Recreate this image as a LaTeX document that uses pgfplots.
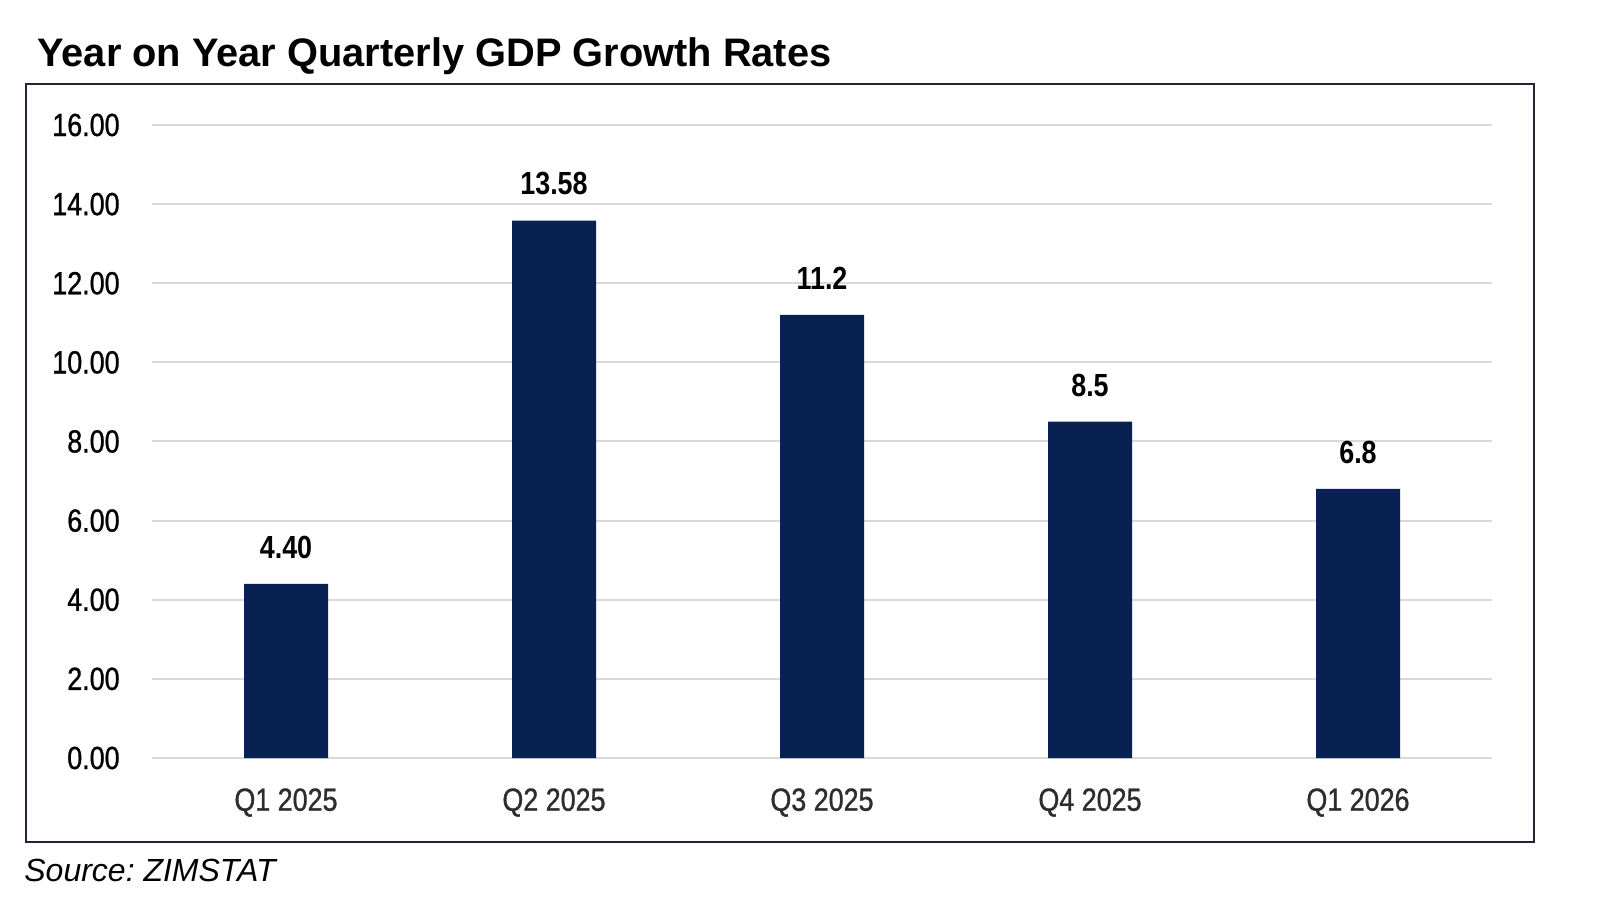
\documentclass[border=0pt]{standalone}
\usepackage{fontspec}
\setmainfont{Liberation Sans}
\newfontfamily\condensed[FakeStretch=0.84]{Liberation Sans}
\newfontfamily\condensedheavy[FakeStretch=0.84, FakeBold=0.9]{Liberation Sans}
\usepackage{pgfplots}
\pgfplotsset{compat=1.18}
\definecolor{barblue}{RGB}{8,33,82}
\definecolor{gridgray}{RGB}{217,217,217}
\definecolor{framecol}{RGB}{35,37,55}
\definecolor{labgray}{RGB}{45,45,45}
\begin{document}
\begin{tikzpicture}[x=1pt,y=1pt]
\path[use as bounding box, fill=white] (0,0) rectangle (800,450);
\draw[framecol, line width=1.4pt] (13,29) rectangle (767,408);
\node[anchor=base west, inner sep=0pt, font=\fontsize{19.9}{22}\selectfont\bfseries] at (18.5,416.5) {Year on Year Quarterly GDP Growth Rates};
\node[anchor=west, inner sep=0pt, font=\fontsize{16}{18}\selectfont\itshape] at (12,15) {Source:\ ZIMSTAT};
\begin{axis}[
  at={(76pt,71pt)}, anchor=south west,
  scale only axis, width=670pt, height=316.5pt,
  xmin=-0.5, xmax=4.5, ymin=0, ymax=16,
  axis line style={draw=none},
  ybar, bar width=42pt,
  xtick=data,
  xticklabels={Q1 2025,Q2 2025,Q3 2025,Q4 2025,Q1 2026},
  ytick={0,2,...,16},
  major tick length=0pt,
  ymajorgrids, grid style={gridgray, line width=1pt},
  /pgf/number format/assume math mode=true,
  yticklabel={\pgfmathprintnumber[fixed, fixed zerofill, precision=2]{\tick}},
  yticklabel style={font=\condensedheavy\fontsize{16}{18}\selectfont, anchor=east, inner sep=0pt, xshift=-16pt, text=black},
  xticklabel style={font=\condensedheavy\fontsize{16}{18}\selectfont, anchor=north, inner sep=0pt, yshift=-15pt, text=labgray},
  nodes near coords,
  point meta=explicit symbolic,
  every node near coord/.style={font=\condensed\bfseries\fontsize{16}{18}\selectfont, anchor=south, inner sep=0pt, yshift=12.5pt, text=black},
  clip=false,
]
\addplot[fill=barblue, draw=none] coordinates {
  (0,4.40) [4.40]
  (1,13.58) [13.58]
  (2,11.2) [11.2]
  (3,8.5) [8.5]
  (4,6.8) [6.8]
};
\end{axis}
\end{tikzpicture}
\end{document}
